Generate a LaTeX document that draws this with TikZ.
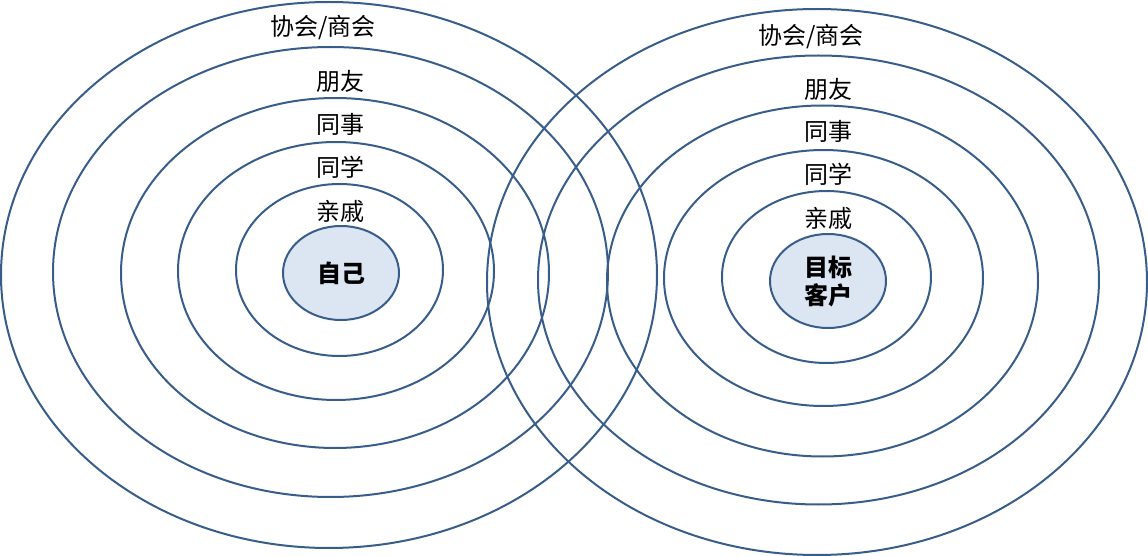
\documentclass[tikz,border=0pt]{standalone}
\usepackage{fontspec}
\setmainfont{Noto Sans CJK SC}
\usepackage{tikz}
\usetikzlibrary{
	shapes.geometric,
	positioning
}
\definecolor{ringblue}{HTML}{385D8A}
\definecolor{corefill}{HTML}{DCE6F2}
\tikzset{
	ring/.style={draw=ringblue,line width=1pt},
	core/.style={ellipse,draw=ringblue,line width=1pt,fill=corefill,
		minimum width=58pt,minimum height=47pt,inner sep=0pt,
		align=center,font=\fontsize{12pt}{14pt}\selectfont\bfseries},
	tag/.style={font=\fontsize{12pt}{14pt}\selectfont,inner sep=0pt}
}

\begin{document}
\begin{tikzpicture}[x=0.5pt,y=-0.5pt]
		\useasboundingbox (0,0) rectangle (1148,556);

		\foreach \cx/\cy/\rx/\ry in {339.5/270/103.5/86, 336/271/158/129,
				335/273/214/175, 330.5/272/277.5/225, 329/275/328/273,
				826.5/277/104.5/86, 823.5/278/159.5/128, 822.5/281/215.5/175.5,
				818.5/280/280.5/224.5, 817/282/330/273}
			\draw[ring] (\cx,\cy) ellipse [x radius=\rx*0.5pt, y radius=\ry*0.5pt];

		\draw
			node[core] (self) at (341,273) {自己}
			node[core] (client) at (828,281) {目标\\客户}

			node[tag] (selfkin)     at (340,211) {亲戚}
			node[tag] (selfclass)   at (340,167) {同学}
			node[tag] (selfwork)    at (340,124) {同事}
			node[tag] (selffriend)  at (340,81)  {朋友}
			node[tag] (selfassoc)   at (323,28)  {协会/商会}

			node[tag] (clientkin)    at (828,218) {亲戚}
			node[tag] (clientclass)  at (828,174) {同学}
			node[tag] (clientwork)   at (828,131) {同事}
			node[tag] (clientfriend) at (828,89)  {朋友}
			node[tag] (clientassoc)  at (811,37)  {协会/商会}
		;
	\end{tikzpicture}
\end{document}
